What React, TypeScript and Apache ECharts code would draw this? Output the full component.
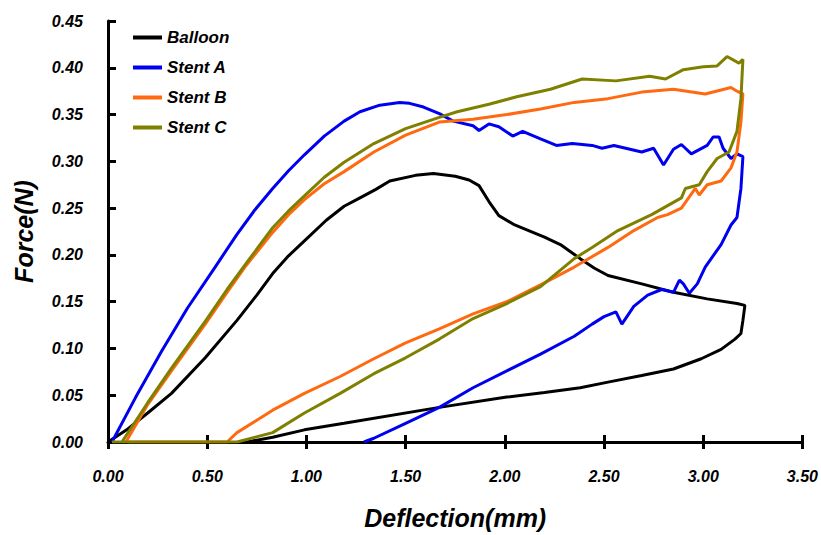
import React, { useEffect, useRef } from "react";
import * as echarts from "echarts";

const seriesNames = ["Balloon", "Stent A", "Stent B", "Stent C"];
const seriesColors = ["#000000", "#0000f0", "#ff6a10", "#808000"];

const balloon: number[][] = [
  [0.0, 0.0], [0.1, 0.014], [0.2, 0.031], [0.32, 0.052], [0.49, 0.09], [0.65, 0.13],
  [0.75, 0.157], [0.83, 0.18], [0.91, 0.199], [0.99, 0.215], [1.1, 0.237], [1.19, 0.252],
  [1.27, 0.261], [1.35, 0.27], [1.42, 0.279], [1.55, 0.285], [1.64, 0.287], [1.75, 0.284],
  [1.82, 0.28], [1.87, 0.274], [1.92, 0.257], [1.97, 0.242], [2.05, 0.232], [2.12, 0.226],
  [2.2, 0.219], [2.28, 0.211], [2.38, 0.196], [2.45, 0.186], [2.52, 0.178], [2.69, 0.169],
  [2.85, 0.16], [3.02, 0.153], [3.17, 0.148], [3.21, 0.146],
  [3.2, 0.13], [3.19, 0.116], [3.16, 0.11], [3.09, 0.099], [2.99, 0.089], [2.85, 0.078],
  [2.69, 0.071], [2.52, 0.064], [2.38, 0.058], [2.2, 0.053], [2.01, 0.048], [1.67, 0.037],
  [1.19, 0.02], [0.99, 0.013], [0.83, 0.005], [0.7, 0.0],
];

const stentA: number[][] = [
  [0.02, 0.0], [0.14, 0.048], [0.27, 0.097], [0.4, 0.143], [0.54, 0.187], [0.65, 0.222],
  [0.74, 0.248], [0.83, 0.271], [0.91, 0.29], [0.99, 0.307], [1.09, 0.327], [1.19, 0.343],
  [1.27, 0.353], [1.37, 0.36], [1.47, 0.363], [1.52, 0.362], [1.59, 0.358],
  [1.67, 0.351], [1.74, 0.343], [1.84, 0.338], [1.87, 0.333], [1.92, 0.34], [1.97, 0.337],
  [2.04, 0.327], [2.09, 0.332], [2.18, 0.324], [2.26, 0.317], [2.34, 0.319], [2.44, 0.317],
  [2.49, 0.314], [2.55, 0.317], [2.69, 0.31], [2.75, 0.314], [2.8, 0.296], [2.85, 0.313],
  [2.89, 0.318], [2.94, 0.308], [3.02, 0.317], [3.05, 0.326], [3.08, 0.326], [3.1, 0.314],
  [3.14, 0.303], [3.17, 0.308], [3.2, 0.305], [3.19, 0.271], [3.17, 0.24], [3.14, 0.232],
  [3.09, 0.211], [3.01, 0.187], [2.97, 0.169], [2.93, 0.159], [2.9, 0.169], [2.88, 0.173],
  [2.85, 0.16], [2.79, 0.163], [2.72, 0.157], [2.65, 0.145], [2.59, 0.126], [2.56, 0.139],
  [2.5, 0.134], [2.44, 0.126], [2.35, 0.113], [2.18, 0.094], [2.01, 0.076], [1.84, 0.058],
  [1.67, 0.037], [1.5, 0.02], [1.34, 0.004], [1.29, 0.0],
];

const stentB: number[][] = [
  [0.09, 0.0], [0.2, 0.04], [0.32, 0.076], [0.49, 0.126], [0.6, 0.16], [0.69, 0.187],
  [0.83, 0.224], [0.91, 0.243], [0.99, 0.259], [1.09, 0.276], [1.19, 0.289], [1.34, 0.31],
  [1.5, 0.328], [1.67, 0.342], [1.84, 0.345], [2.01, 0.35],
  [2.18, 0.356], [2.35, 0.363], [2.52, 0.367], [2.69, 0.374], [2.85, 0.377], [3.01, 0.372],
  [3.14, 0.379], [3.17, 0.375], [3.2, 0.372], [3.19, 0.342], [3.17, 0.31], [3.14, 0.293],
  [3.09, 0.279], [3.02, 0.275], [2.98, 0.264], [2.96, 0.271], [2.89, 0.25], [2.82, 0.243],
  [2.77, 0.24], [2.65, 0.226], [2.52, 0.208], [2.35, 0.187], [2.18, 0.168], [2.01, 0.15],
  [1.84, 0.137], [1.67, 0.121], [1.5, 0.106], [1.34, 0.089], [1.17, 0.07], [0.99, 0.052],
  [0.83, 0.034], [0.65, 0.01], [0.6, 0.0], [0.1, 0.0],
];

const stentC: number[][] = [
  [0.07, 0.0], [0.2, 0.042], [0.32, 0.079], [0.49, 0.129], [0.6, 0.163], [0.7, 0.192],
  [0.83, 0.229], [0.91, 0.247], [0.99, 0.263], [1.09, 0.283], [1.19, 0.299], [1.34, 0.319],
  [1.5, 0.335], [1.67, 0.347], [1.76, 0.353], [1.92, 0.361],
  [2.06, 0.369], [2.23, 0.377], [2.39, 0.388], [2.56, 0.386], [2.73, 0.391], [2.81, 0.388],
  [2.9, 0.398], [3.0, 0.401], [3.07, 0.402], [3.12, 0.412], [3.18, 0.405], [3.2, 0.409],
  [3.19, 0.367], [3.17, 0.332], [3.13, 0.31], [3.07, 0.303], [3.02, 0.289], [2.98, 0.275],
  [2.91, 0.271], [2.89, 0.261], [2.74, 0.243], [2.57, 0.226], [2.44, 0.208], [2.35, 0.196],
  [2.18, 0.166], [2.01, 0.148], [1.84, 0.132], [1.67, 0.11], [1.5, 0.09], [1.34, 0.073],
  [1.17, 0.052], [0.99, 0.031], [0.83, 0.01], [0.65, 0.0], [0.02, 0.0],
];

const allData = [balloon, stentA, stentB, stentC];

const xMin = 0;
const xMax = 3.5;
const xStep = 0.5;
const yMin = 0;
const yMax = 0.45;
const yStep = 0.05;

const FONT = "'Liberation Sans', Arial, sans-serif";

export default function App() {
  const ref = useRef<HTMLDivElement>(null);
  useEffect(() => {
    if (!ref.current) return;
    const chart = echarts.init(ref.current, null, { renderer: "svg" });
    const labelStyle = {
      fontFamily: FONT,
      fontWeight: "bold" as const,
      fontStyle: "italic" as const,
      fontSize: 16,
      color: "#000",
    };
    const baseX = {
      type: "value" as const,
      min: xMin,
      max: xMax,
      interval: xStep,
      position: "bottom" as const,
      splitLine: { show: false },
    };
    chart.setOption({
      animation: false,
      backgroundColor: "#fff",
      grid: { left: 108, right: 18, top: 21, bottom: 88, containLabel: false },
      legend: {
        data: seriesNames,
        orient: "vertical",
        left: 128,
        top: 24,
        icon: "rect",
        itemWidth: 29,
        itemHeight: 4,
        itemGap: 13,
        textStyle: { ...labelStyle, fontSize: 17, padding: [0, 0, 0, 0] },
      },
      xAxis: [
        {
          ...baseX,
          name: "Deflection(mm)",
          nameLocation: "middle",
          nameGap: 63,
          nameTextStyle: { ...labelStyle, fontSize: 25 },
          axisLine: { show: true, lineStyle: { color: "#000", width: 3 } },
          axisTick: { show: true, inside: true, length: 7, lineStyle: { color: "#000", width: 3 } },
          axisLabel: { ...labelStyle, margin: 26, formatter: (v: number) => v.toFixed(2) },
        },
        {
          ...baseX,
          axisLine: { show: false },
          axisTick: { show: true, inside: false, length: 7, lineStyle: { color: "#000", width: 3 } },
          axisLabel: { show: false },
        },
      ],
      yAxis: {
        type: "value",
        min: yMin,
        max: yMax,
        interval: yStep,
        name: "Force(N)",
        nameLocation: "middle",
        nameGap: 72,
        nameTextStyle: { ...labelStyle, fontSize: 25 },
        splitLine: { show: false },
        axisLine: { show: true, lineStyle: { color: "#000", width: 3 } },
        axisTick: { show: true, inside: true, length: 8, lineStyle: { color: "#000", width: 3 } },
        axisLabel: { ...labelStyle, margin: 25, formatter: (v: number) => v.toFixed(2) },
      },
      series: allData.map((d, i) => ({
        name: seriesNames[i],
        type: "line",
        data: d,
        xAxisIndex: 0,
        showSymbol: false,
        symbol: "none",
        smooth: false,
        color: seriesColors[i],
        lineStyle: { color: seriesColors[i], width: 3 },
        z: 2 + i,
      })),
    });
    return () => chart.dispose();
  }, []);
  return <div ref={ref} style={{ width: 821, height: 535, position: "absolute", left: 0, top: 0 }} />;
}
